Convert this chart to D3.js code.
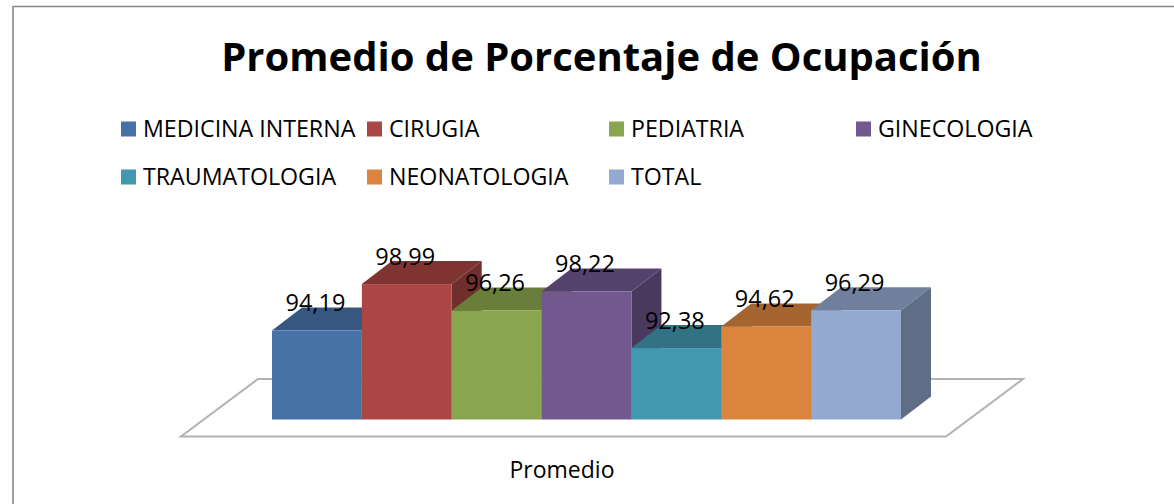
<!DOCTYPE html>
<html><head><meta charset="utf-8">
<script src="https://d3js.org/d3.v7.min.js"></script>
<style>html,body{margin:0;padding:0;background:#fff}svg{display:block}text{font-family:"Open Sans",Lato,sans-serif;fill:#000}</style>
</head><body><svg id="c" width="1174" height="504"></svg>
<script>
const categories=["MEDICINA INTERNA","CIRUGIA","PEDIATRIA","GINECOLOGIA","TRAUMATOLOGIA","NEONATOLOGIA","TOTAL"];
const values=[94.19,98.99,96.26,98.22,92.38,94.62,96.29];
const labels=["94,19","98,99","96,26","98,22","92,38","94,62","96,29"];
const front=["#4672a8","#aa4643","#89a54e","#71588f","#4198af","#db843d","#93a9cf"];
const top_=["#365880","#7f3432","#697e3b","#55426c","#317385","#a56530","#6f7f9c"];
const side=["#2e4b6e","#702e2c","#5a6c33","#4a395e","#2a6373","#8f5729","#5f6d86"];
const svg=d3.select("#c");
const x=d3.scaleBand().domain(categories).range([272,901]);
const y=d3.scaleLinear().domain([85,100]).range([419.5,274.3]);
const dx=30,dy=-23;
svg.append("path").attr("d","M13,504V6.5H1174").attr("fill","none").attr("stroke","#888").attr("stroke-width",1.6);
svg.append("text").attr("x",601.5).attr("y",71).attr("text-anchor","middle").attr("font-size",40).attr("font-weight",700).text("Promedio de Porcentaje de Ocupación");
svg.append("path").attr("d",`M181,436.5H946L1023,379H258Z`).attr("fill","#fff").attr("stroke","#b2b2b2").attr("stroke-width",2);
const legX=[121,367,609,856],legY=[129,177];
categories.forEach((c,i)=>{
 const lx=legX[i%4],ly=legY[Math.floor(i/4)];
 svg.append("rect").attr("x",lx).attr("y",ly-7.5).attr("width",15).attr("height",15).attr("fill",front[i]);
 svg.append("text").attr("x",lx+22).attr("y",ly+8).attr("font-size",23.2).text(c);
});
categories.forEach((c,i)=>{
 const a=x(c),w=x.bandwidth(),t=y(values[i]),b=y.range()[0];
 const g=svg.append("g");
 g.append("path").attr("d",`M${a+w},${t}l${dx},${dy}V${b+dy}l${-dx},${-dy}Z`).attr("fill",side[i]);
 g.append("path").attr("d",`M${a},${t}l${dx},${dy}h${w}l${-dx},${-dy}Z`).attr("fill",top_[i]);
 g.append("rect").attr("x",a).attr("y",t).attr("width",w).attr("height",b-t).attr("fill",front[i]);
});
categories.forEach((c,i)=>{
 svg.append("text").attr("x",x(c)+x.bandwidth()/2-1.5).attr("y",y(values[i])-19.5).attr("text-anchor","middle").attr("font-size",23.5).text(labels[i]);
});
svg.append("text").attr("x",562).attr("y",478).attr("text-anchor","middle").attr("font-size",23).text("Promedio");
</script></body></html>
